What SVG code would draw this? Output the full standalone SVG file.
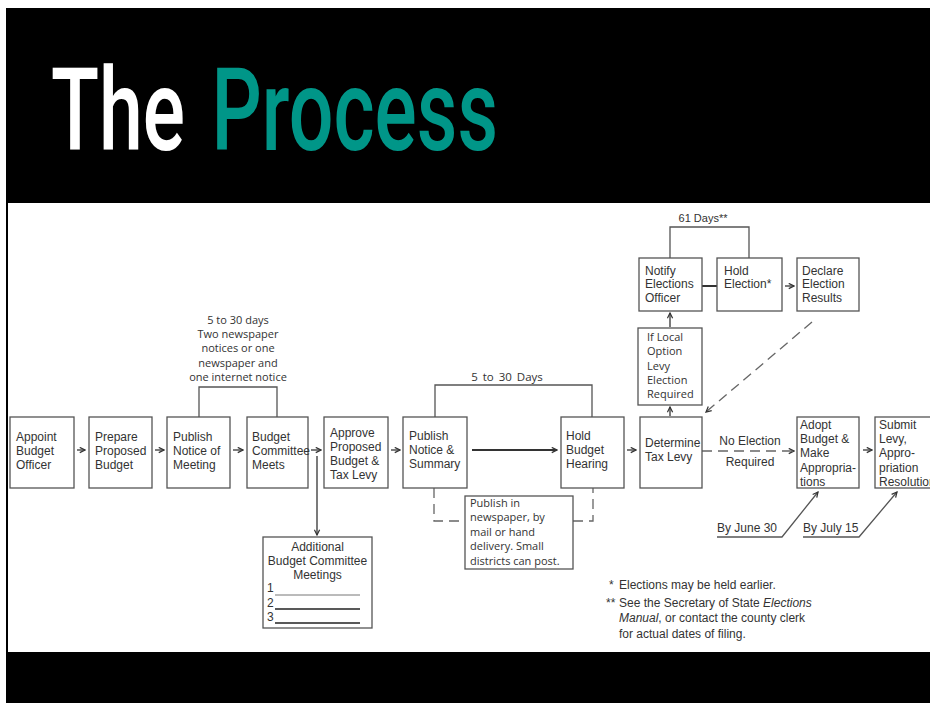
<svg xmlns="http://www.w3.org/2000/svg" width="930" height="703" viewBox="0 0 930 703">
<style>
.box{fill:#fff;stroke:#555;stroke-width:1.3}
.t{font-family:"Liberation Sans",Arial,sans-serif;font-size:12px;fill:#333}
.m{font-family:"Open Sans","Noto Sans",sans-serif;font-size:11px;fill:#333}
.ln{fill:none;stroke:#555;stroke-width:1.3}
.ar{fill:none;stroke:#333;stroke-width:1.3;marker-end:url(#ah)}
.ds{fill:none;stroke:#666;stroke-width:1.3;stroke-dasharray:10 6}
.title{font-family:Roboto,"Open Sans",sans-serif;font-size:115px;font-weight:500}
</style>
<defs>
<marker id="ah" viewBox="0 0 8 8" refX="7" refY="4" markerWidth="7" markerHeight="7" markerUnits="userSpaceOnUse" orient="auto">
<path d="M1,1 L7,4 L1,7" fill="none" stroke="#333" stroke-width="1.4"/>
</marker>
</defs>
<rect x="0" y="0" width="930" height="703" fill="#fff"/>
<rect x="6" y="8" width="924" height="695" fill="#000"/>
<rect x="8" y="203" width="922" height="449" fill="#fff"/>
<g id="title">
<text class="title" x="51" y="150" fill="#fff" textLength="447" lengthAdjust="spacingAndGlyphs" style="word-spacing:10px">The <tspan fill="#009688">Process</tspan></text>
</g>
<g id="connectors">
<line class="ar" x1="77" y1="450" x2="85" y2="450"/>
<line class="ar" x1="155" y1="450" x2="164" y2="450"/>
<line class="ar" x1="233" y1="450" x2="243" y2="450"/>
<line class="ar" x1="311" y1="450" x2="321" y2="450"/>
<line class="ar" x1="317" y1="456" x2="317" y2="535"/>
<line class="ar" x1="391" y1="450" x2="400" y2="450"/>
<line x1="472" y1="450" x2="557" y2="450" stroke="#333" stroke-width="2" marker-end="url(#ah)"/>
<line class="ar" x1="627" y1="450" x2="636" y2="450"/>
<line x1="702" y1="286" x2="717" y2="286" stroke="#333" stroke-width="2"/>
<line class="ar" x1="785" y1="286" x2="794" y2="286"/>
<line class="ar" x1="670" y1="327" x2="670" y2="313"/>
<line class="ar" x1="670" y1="416" x2="670" y2="407"/>
<line class="ar" x1="863" y1="450" x2="872" y2="450"/>
<path class="ln" d="M199,417 V387 H277 V417"/>
<path class="ln" d="M435,417 V385 H592 V417"/>
<path class="ln" d="M670,258 V227 H749 V258"/>
<path class="ds" d="M434,488 V521 H465"/>
<path class="ds" d="M573,521 H593 V488"/>
<line class="ds" x1="812" y1="322" x2="706" y2="412" marker-end="url(#ah)"/>
<line class="ds" x1="702" y1="451" x2="794" y2="451" marker-end="url(#ah)"/>
<path class="ln" d="M717,537 H782 L818,492" marker-end="url(#ah)"/>
<path class="ln" d="M803,537 H859 L897,492" marker-end="url(#ah)"/>
<text class="m" x="238" y="324" text-anchor="middle">5 to 30 days</text>
<text class="m" x="238" y="338" text-anchor="middle">Two newspaper</text>
<text class="m" x="238" y="352" text-anchor="middle">notices or one</text>
<text class="m" x="238" y="367" text-anchor="middle">newspaper and</text>
<text class="m" x="238" y="381" text-anchor="middle">one internet notice</text>
<text class="m" x="507" y="381" text-anchor="middle" style="font-size:11.5px;word-spacing:2px">5 to 30 Days</text>
<text class="t" x="703" y="222" text-anchor="middle" style="font-size:11px">61 Days**</text>
<text class="t" x="750" y="445" text-anchor="middle">No Election</text>
<text class="t" x="750" y="466" text-anchor="middle">Required</text>
<text class="t" x="717" y="532">By June 30</text>
<text class="t" x="803" y="532">By July 15</text>
</g>
<g id="appoint">
<rect class="box" x="10" y="417" width="64" height="71"/>
<text class="t" x="16" y="441">Appoint</text>
<text class="t" x="16" y="455">Budget</text>
<text class="t" x="16" y="469">Officer</text>
</g>
<g id="prepare">
<rect class="box" x="89" y="417" width="63" height="71"/>
<text class="t" x="95" y="441">Prepare</text>
<text class="t" x="95" y="455">Proposed</text>
<text class="t" x="95" y="469">Budget</text>
</g>
<g id="publish-meeting">
<rect class="box" x="167" y="417" width="63" height="71"/>
<text class="t" x="173" y="441">Publish</text>
<text class="t" x="173" y="455">Notice of</text>
<text class="t" x="173" y="469">Meeting</text>
</g>
<g id="committee">
<rect class="box" x="247" y="417" width="61" height="71"/>
<text class="t" x="252" y="441">Budget</text>
<text class="t" x="252" y="455">Committee</text>
<text class="t" x="252" y="469">Meets</text>
</g>
<g id="approve">
<rect class="box" x="324" y="417" width="64" height="71"/>
<text class="t" x="330" y="437">Approve</text>
<text class="t" x="330" y="451">Proposed</text>
<text class="t" x="330" y="465">Budget &amp;</text>
<text class="t" x="330" y="479">Tax Levy</text>
</g>
<g id="additional">
<rect class="box" x="263" y="537" width="109" height="91"/>
<text class="t" x="317.5" y="551" text-anchor="middle">Additional</text>
<text class="t" x="317.5" y="565" text-anchor="middle">Budget Committee</text>
<text class="t" x="317.5" y="579" text-anchor="middle">Meetings</text>
<text class="t" x="267" y="592">1</text>
<text class="t" x="267" y="607">2</text>
<text class="t" x="267" y="621">3</text>
<line x1="275" y1="595" x2="360" y2="595" stroke="#777" stroke-width="1"/>
<line x1="275" y1="609" x2="360" y2="609" stroke="#222" stroke-width="1.6"/>
<line x1="275" y1="623" x2="360" y2="623" stroke="#222" stroke-width="1.6"/>
</g>
<g id="publish-summary">
<rect class="box" x="403" y="417" width="64" height="71"/>
<text class="t" x="409" y="440">Publish</text>
<text class="t" x="409" y="454">Notice &amp;</text>
<text class="t" x="409" y="468">Summary</text>
</g>
<g id="publish-in">
<rect class="box" x="465" y="496" width="108" height="73"/>
<text class="m" x="470" y="507">Publish in</text>
<text class="m" x="470" y="521">newspaper, by</text>
<text class="m" x="470" y="536">mail or hand</text>
<text class="m" x="470" y="550">delivery. Small</text>
<text class="m" x="470" y="565">districts can post.</text>
</g>
<g id="hearing">
<rect class="box" x="561" y="417" width="63" height="71"/>
<text class="t" x="566" y="440">Hold</text>
<text class="t" x="566" y="454">Budget</text>
<text class="t" x="566" y="468">Hearing</text>
</g>
<g id="determine">
<rect class="box" x="640" y="417" width="62" height="71"/>
<text class="t" x="645" y="447">Determine</text>
<text class="t" x="645" y="461">Tax Levy</text>
</g>
<g id="if-local">
<rect class="box" x="638" y="328" width="64" height="77"/>
<text class="m" x="647" y="341">If Local</text>
<text class="m" x="647" y="355">Option</text>
<text class="m" x="647" y="370">Levy</text>
<text class="m" x="647" y="384">Election</text>
<text class="m" x="647" y="398">Required</text>
</g>
<g id="notify">
<rect class="box" x="639" y="258" width="63" height="53"/>
<text class="t" x="645" y="275">Notify</text>
<text class="t" x="645" y="288">Elections</text>
<text class="t" x="645" y="302">Officer</text>
</g>
<g id="hold-election">
<rect class="box" x="717" y="258" width="65" height="53"/>
<text class="t" x="724" y="275">Hold</text>
<text class="t" x="724" y="288">Election*</text>
</g>
<g id="declare">
<rect class="box" x="797" y="258" width="62" height="53"/>
<text class="t" x="802" y="275">Declare</text>
<text class="t" x="802" y="288">Election</text>
<text class="t" x="802" y="302">Results</text>
</g>
<g id="adopt">
<rect class="box" x="797" y="417" width="62" height="71"/>
<text class="t" x="800" y="429">Adopt</text>
<text class="t" x="800" y="443">Budget &amp;</text>
<text class="t" x="800" y="457">Make</text>
<text class="t" x="800" y="472">Appropria-</text>
<text class="t" x="800" y="486">tions</text>
</g>
<g id="submit">
<rect class="box" x="875" y="417" width="70" height="71"/>
<text class="t" x="879" y="429">Submit</text>
<text class="t" x="879" y="443">Levy,</text>
<text class="t" x="879" y="457">Appro-</text>
<text class="t" x="879" y="472">priation</text>
<text class="t" x="879" y="486">Resolution</text>
</g>
<g id="footnotes">
<text class="t" x="609" y="589">*</text>
<text class="t" x="619" y="589">Elections may be held earlier.</text>
<text class="t" x="606" y="607">**</text>
<text class="t" x="619" y="607">See the Secretary of State <tspan font-style="italic">Elections</tspan></text>
<text class="t" x="619" y="622"><tspan font-style="italic">Manual</tspan>, or contact the county clerk</text>
<text class="t" x="619" y="638">for actual dates of filing.</text>
</g>
</svg>
